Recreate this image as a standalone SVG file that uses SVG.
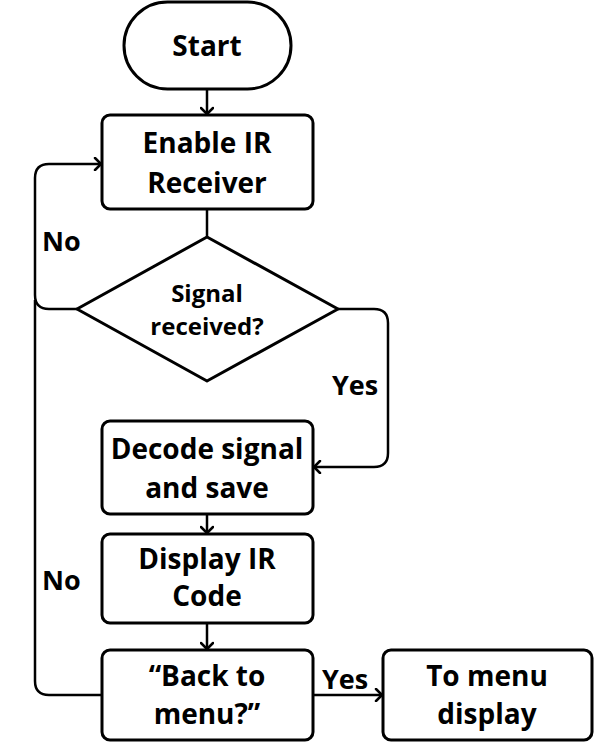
<svg xmlns="http://www.w3.org/2000/svg" width="603" height="748" viewBox="0 0 603 748">
<style>
.n{fill:#fff;stroke:#000;stroke-width:3;stroke-linejoin:round}
.t{font-family:"Open Sans","Noto Sans",sans-serif;font-weight:700;font-size:28px;fill:#000;text-anchor:middle}
.s{font-size:24px}
.l{font-family:"Open Sans","Noto Sans",sans-serif;font-weight:700;font-size:27px;fill:#000}
.c{fill:none;stroke:#000;stroke-width:2.5;stroke-linejoin:round}
</style>
<defs>
<marker id="a" markerUnits="userSpaceOnUse" markerWidth="14" markerHeight="14" refX="9" refY="7" orient="auto">
<path d="M3,1 L9,7 L3,13" fill="none" stroke="#000" stroke-width="2.5" stroke-linecap="round" stroke-linejoin="round"/>
</marker>
</defs>
<g id="connectors">
<path class="c" d="M207,89 L207,114" marker-end="url(#a)"/>
<path class="c" d="M207,209 L207,237"/>
<path class="c" d="M77,309 L49,309 Q35,309 35,295 L35,178 Q35,164 49,164 L101,164" marker-end="url(#a)"/>
<path class="c" d="M102,695 L49,695 Q35,695 35,681 L35,300"/>
<path class="c" d="M338,309 L374,309 Q388,309 388,323 L388,453 Q388,467 374,467 L314,467" marker-end="url(#a)"/>
<path class="c" d="M207,514 L207,533" marker-end="url(#a)"/>
<path class="c" d="M207,623 L207,649" marker-end="url(#a)"/>
<path class="c" d="M313,695 L382,695" marker-end="url(#a)"/>
<text class="l" x="42" y="251">No</text>
<text class="l" x="42" y="590">No</text>
<text class="l" x="332" y="395">Yes</text>
<text class="l" x="322" y="689">Yes</text>
</g>
<g id="start">
<rect class="n" x="124" y="2" width="167" height="87" rx="43.5"/>
<text class="t" x="207" y="56">Start</text>
</g>
<g id="enable">
<rect class="n" x="102" y="115" width="211" height="94" rx="8"/>
<text class="t" x="207" y="153">Enable IR</text>
<text class="t" x="207" y="193">Receiver</text>
</g>
<g id="decision">
<polygon class="n" points="207,237 338,309 207,381 77,309" stroke-width="3.5"/>
<text class="t s" x="207" y="302">Signal</text>
<text class="t s" x="207" y="335">received?</text>
</g>
<g id="decode">
<rect class="n" x="102" y="421" width="211" height="93" rx="8"/>
<text class="t" x="207" y="459">Decode signal</text>
<text class="t" x="207" y="498">and save</text>
</g>
<g id="display">
<rect class="n" x="102" y="534" width="211" height="89" rx="8"/>
<text class="t" x="207" y="569">Display IR</text>
<text class="t" x="207" y="606">Code</text>
</g>
<g id="back">
<rect class="n" x="102" y="650" width="211" height="90" rx="8"/>
<text class="t" x="207" y="686">“Back to</text>
<text class="t" x="207" y="724">menu?”</text>
</g>
<g id="tomenu">
<rect class="n" x="383" y="650" width="209" height="90" rx="8"/>
<text class="t" x="487" y="686">To menu</text>
<text class="t" x="487" y="724">display</text>
</g>
</svg>
